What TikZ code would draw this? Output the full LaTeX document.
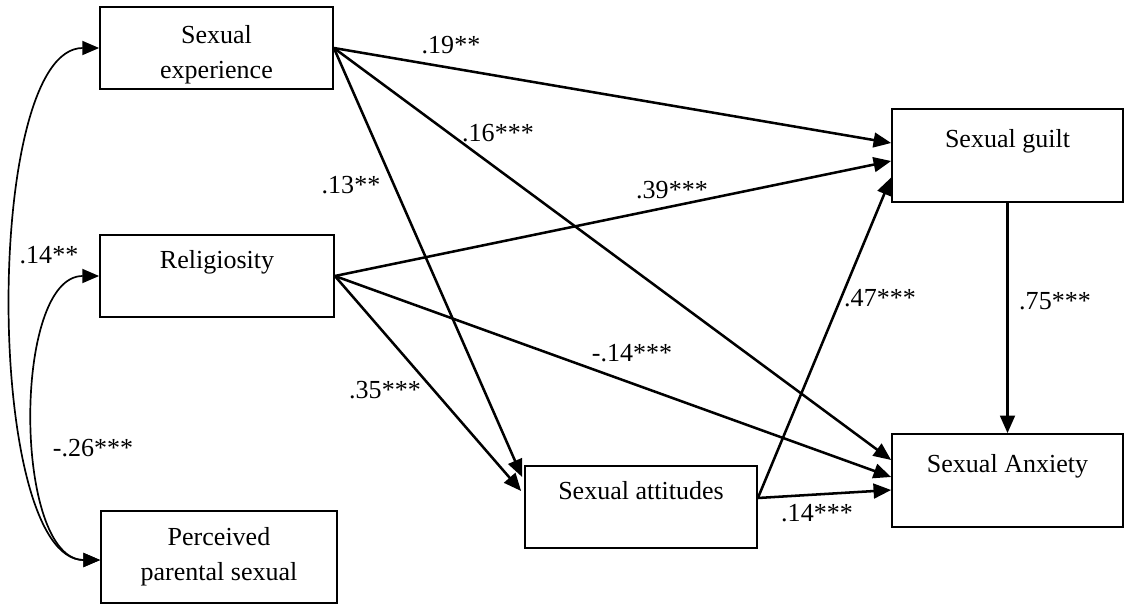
\documentclass[tikz,border=0pt]{standalone}
\usepackage{fontspec}
\setmainfont{Liberation Serif}
\usetikzlibrary{arrows.meta,calc}

\tikzset{
  varbox/.style={draw,line width=1.2pt,inner sep=0pt,align=center},
  oneline/.style={text height=0.5cm,text depth=0.9cm},
  effect/.style={line width=1.8pt,-{Triangle[length=12.5pt,width=10.5pt]}},
  corr/.style={line width=1.2pt,{Triangle[length=12pt,width=10pt]}-{Triangle[length=12pt,width=10pt]}},
  coef/.style={inner sep=0pt}
}

\begin{document}
\begin{tikzpicture}[x=0.025cm,y=-0.025cm,font=\fontsize{18.5}{24.9}\selectfont]
\useasboundingbox (0,0) rectangle (1124,606);
% exogenous variables
\node[varbox,minimum width=5.825cm,minimum height=2.05cm] (exp) at (216.5,48) {\rule{0pt}{0.77cm}Sexual\\experience};
\node[varbox,oneline,minimum width=5.85cm,minimum height=2.05cm] (rel) at (217,276) {Religiosity};
\node[varbox,minimum width=5.9cm,minimum height=2.3cm] (par) at (219,557) {Perceived\\parental sexual};
% mediator and outcomes
\node[varbox,oneline,minimum width=5.8cm,minimum height=2.05cm] (att) at (641,507) {Sexual attitudes};
\node[varbox,oneline,minimum width=5.775cm,minimum height=2.325cm] (guilt) at (1007.5,155.5) {Sexual guilt};
\node[varbox,oneline,minimum width=5.775cm,minimum height=2.325cm] (anx) at (1007.5,480.5) {Sexual Anxiety};

% paths from sexual experience
\draw[effect] (exp.east) -- ($(guilt.west)+(0,-12.5)$);
\draw[effect] (exp.east) -- ($(anx.west)+(0,-20.5)$);
\draw[effect] (exp.east) -- ($(att.west)+(-2,-30)$);
% paths from religiosity
\draw[effect] (rel.east) -- ($(guilt.west)+(0,5.5)$);
\draw[effect] (rel.east) -- ($(anx.west)+(0,-3.5)$);
\draw[effect] (rel.east) -- ($(att.west)+(-3,-16)$);
% paths from sexual attitudes
\draw[effect] ($(att.east)+(0,-9)$) -- ($(guilt.west)+(0,22)$);
\draw[effect] ($(att.east)+(0,-9)$) -- ($(anx.west)+(0,9.5)$);
% guilt to anxiety
\draw[effect] (guilt.south) -- (anx.north);

% correlations
\draw[corr] (exp.west) .. controls +(-116,0) and +(-116,0) .. ($(par.west)+(0,3)$);
\draw[corr] (rel.west) .. controls +(-87,0) and +(-87,0) .. ($(par.west)+(0,3)$);

% coefficients
\node[coef] (b1) at (451,45) {.19**};
\node[coef] (b2) at (498,133) {.16***};
\node[coef] (b3) at (351,185) {.13**};
\node[coef] (b4) at (672,190) {.39***};
\node[coef] (b5) at (632,353) {-.14***};
\node[coef] (b6) at (385,390) {.35***};
\node[coef] (b7) at (880,298) {.47***};
\node[coef] (b8) at (1055,301) {.75***};
\node[coef] (b9) at (817,513) {.14***};
\node[coef] (r1) at (49,255) {.14**};
\node[coef] (r2) at (93,448) {-.26***};
\end{tikzpicture}
\end{document}
